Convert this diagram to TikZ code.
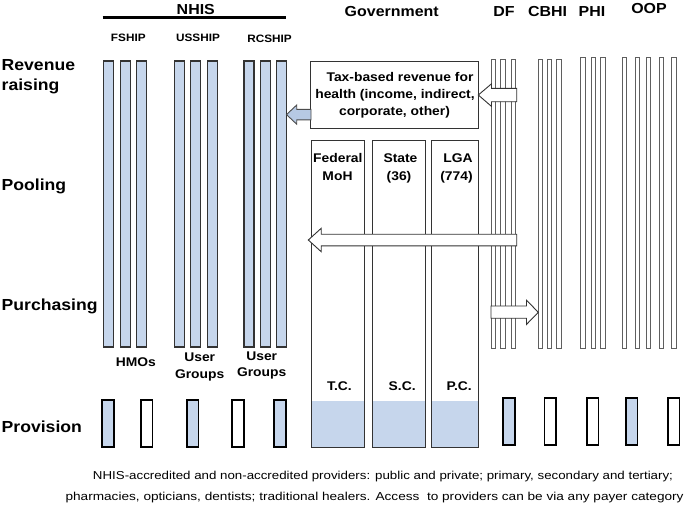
\documentclass[tikz,border=0pt]{standalone}
\usepackage{fontspec}
\usepackage{graphicx}
\setmainfont{Liberation Sans}
\definecolor{nblue}{RGB}{198,214,236}
\definecolor{ablue}{RGB}{182,201,228}
\definecolor{gline}{RGB}{95,95,95}
\newcommand\sx[1]{\scalebox{1.1}[1]{#1}}
\begin{document}
\begin{tikzpicture}[x=1pt,y=-1pt,
  lbl/.style={font=\fontsize{16}{18}\selectfont\bfseries, anchor=base west, inner sep=0pt},
  hd/.style={font=\fontsize{14.5}{16}\selectfont\bfseries, anchor=base, inner sep=0pt},
  subhd/.style={font=\fontsize{10.7}{12}\selectfont\bfseries, anchor=base, inner sep=0pt},
  bxt/.style={font=\fontsize{12.6}{15}\selectfont\bfseries, anchor=base, inner sep=0pt},
  foot/.style={font=\fontsize{11.5}{13}\selectfont, anchor=base, inner sep=0pt},
  nbar/.style={draw=black!80, fill=nblue, line width=1.2pt},
  tbar/.style={draw=gline, fill=white, line width=0.9pt},
  gbox/.style={draw=black!80, line width=0.9pt},
  pbox/.style={draw=black, line width=1.8pt},
  warrow/.style={draw=black!80, fill=white, line width=0.9pt, line join=miter},
  barrow/.style={draw=black!70, fill=ablue, line width=0.9pt, line join=miter}]
\useasboundingbox (0,0) rectangle (685,504);

% NHIS bars
\foreach \x in {103.3,120.5,136.7,174.3,190.7,207.3,244,260.5,276.7}
  \draw[nbar] (\x,61) rectangle ++(10,286);

% thin payer bars
\foreach \x in {491,500.9,511.2,538.2,547.6,556.7}
  \draw[tbar] (\x,59.3) rectangle (\x+4.3,348);
\foreach \x in {580.7,591,600.7}
  \draw[tbar] (\x,57.7) rectangle (\x+4.3,348);
\foreach \x in {622.5,635,646.3,659,671.7}
  \draw[tbar] (\x,57.3) rectangle (\x+4.3,348);

% government columns
\foreach \a/\b in {311.7/364.3,372.7/425.3,431.7/478.3}{
  \fill[nblue] (\a,401) rectangle (\b,447.3);
  \draw[gbox] (\a,140) rectangle (\b,447.3);
}
% tax box
\draw[gbox, fill=white] (310.7,61.7) rectangle (478.3,128.3);

% provision boxes
\foreach \a/\c in {102.3/nblue,140.7/white,186.7/nblue,232.3/white,274/nblue}
  \draw[pbox, fill=\c] (\a,400) rectangle (\a+11.7,447);
\foreach \a/\c in {503/nblue,544.5/white,586.7/white,625.7/nblue,667.7/white}
  \draw[pbox, fill=\c] (\a,398) rectangle (\a+11.7,445);

% arrows
\coordinate (bt) at (286.5,114.6);
\draw[barrow] (311,109.3) -- (296.7,109.3) -- (296.7,105) -- (bt) -- (296.7,124.2) -- (296.7,119.9) -- (311,119.9) -- cycle;
\coordinate (w1) at (478.3,95);
\draw[warrow] (516.7,88.3) -- (491.5,88.3) -- (491.5,83.8) -- (w1) -- (491.5,106.4) -- (491.5,101.7) -- (516.7,101.7) -- cycle;
\coordinate (w2) at (308.3,240);
\draw[warrow] (516.7,234.2) -- (321.2,234.2) -- (321.2,228.3) -- (w2) -- (321.2,251.7) -- (321.2,245.8) -- (516.7,245.8) -- cycle;
\coordinate (w3) at (538.3,312.3);
\draw[warrow] (491,306) -- (526.5,306) -- (526.5,300.2) -- (w3) -- (526.5,324.4) -- (526.5,318.2) -- (491,318.2) -- cycle;

% NHIS header
\node[hd] (nhis) at (195.8,14.8) {\sx{NHIS}};
\draw[line width=2.8pt] (102.7,17.6) -- (286,17.6);
\node[subhd] (fship) at (128.3,41.7) {\sx{FSHIP}};
\node[subhd] (usship) at (198,41.7) {\sx{USSHIP}};
\node[subhd] (rcship) at (269.5,42.2) {\sx{RCSHIP}};

% other headers
\node[hd] (gov) at (391.7,16) {\sx{Government}};
\node[hd] (df) at (504,16) {\sx{DF}};
\node[hd] (cbhi) at (547.5,16) {\sx{CBHI}};
\node[hd] (phi) at (592,16) {\sx{PHI}};
\node[hd] (oop) at (649,13.6) {\sx{OOP}};

% row labels
\node[lbl] (rev1) at (1.5,70.7) {\sx{Revenue}};
\node[lbl] (rev2) at (1.5,90.5) {\sx{raising}};
\node[lbl] (pool) at (1.5,190.7) {\sx{Pooling}};
\node[lbl] (purch) at (1.5,310.7) {\sx{Purchasing}};
\node[lbl] (prov) at (1.5,432.7) {\sx{Provision}};

% tax box text
\node[bxt] (tax1) at (400,81.7) {\sx{Tax-based revenue for}};
\node[bxt] (tax2) at (395,98.7) {\sx{health (income, indirect,}};
\node[bxt] (tax3) at (394.5,115.7) {\sx{corporate, other)}};

% government columns text
\node[bxt] (fed1) at (337.8,162) {\sx{Federal}};
\node[bxt] (fed2) at (337.5,180) {\sx{MoH}};
\node[bxt] (st1) at (400.5,162) {\sx{State}};
\node[bxt] (st2) at (399,180) {\sx{(36)}};
\node[bxt] (lga1) at (458,162) {\sx{LGA}};
\node[bxt] (lga2) at (456.5,180) {\sx{(774)}};
\node[bxt] (tc) at (339.5,390.7) {\sx{T.C.}};
\node[bxt] (sc) at (402.2,390.7) {\sx{S.C.}};
\node[bxt] (pc) at (459.2,390.7) {\sx{P.C.}};

% purchasers under NHIS
\node[bxt] (hmo) at (135.8,366.7) {\sx{HMOs}};
\node[bxt] (ug1a) at (199.7,361.7) {\sx{User}};
\node[bxt] (ug1b) at (199.7,378.5) {\sx{Groups}};
\node[bxt] (ug2a) at (261.7,360) {\sx{User}};
\node[bxt] (ug2b) at (261.7,376.8) {\sx{Groups}};

% footnote
\node[foot] (ft1) at (383,479) {\resizebox{580pt}{\height}{NHIS-accredited and non-accredited providers: public and private; primary, secondary and tertiary;}};
\node[foot] (ft2) at (374.6,500.5) {\resizebox{618pt}{\height}{pharmacies, opticians, dentists; traditional healers. Access\ \ to providers can be via any payer category}};
\end{tikzpicture}
\end{document}
